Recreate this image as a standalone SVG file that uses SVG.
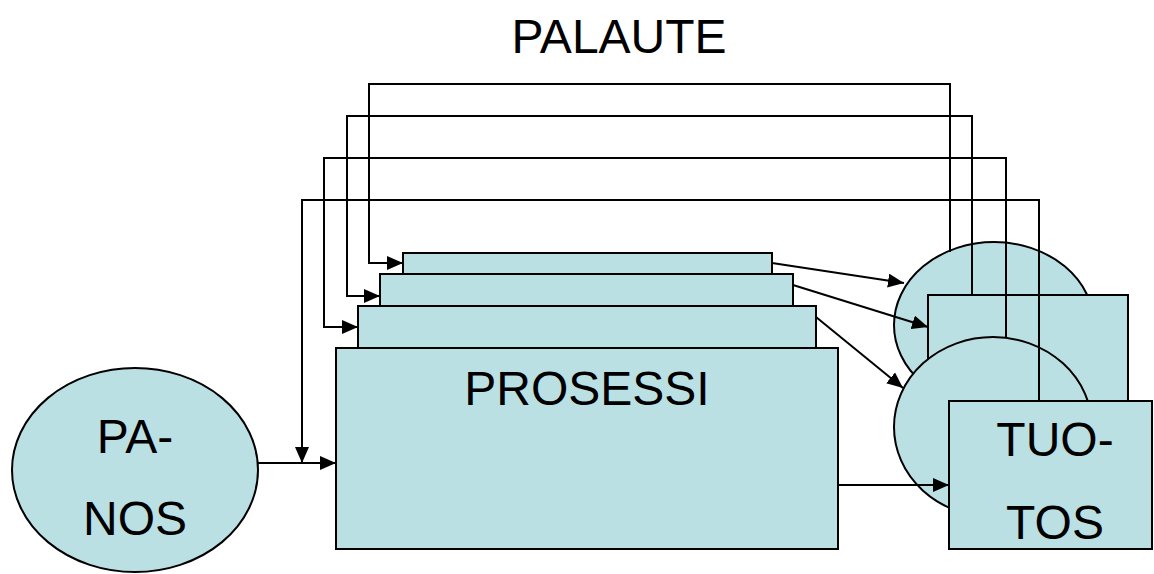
<svg xmlns="http://www.w3.org/2000/svg" width="1154" height="574" viewBox="0 0 1154 574">
<style>
.n{fill:#BBE0E3;stroke:#000;stroke-width:2}
.c{fill:none;stroke:#000;stroke-width:2}
.t{font-family:"Liberation Sans",Arial,sans-serif;font-size:48px;fill:#000;text-anchor:middle}
</style>
<defs>
<marker id="ah" viewBox="0 0 16 14" refX="16" refY="7" markerWidth="16" markerHeight="14" markerUnits="userSpaceOnUse" orient="auto">
<path d="M0,0 L16,7 L0,14 Z" fill="#000"/>
</marker>
</defs>
<rect width="1154" height="574" fill="#fff"/>
<text class="t" x="619" y="53">PALAUTE</text>
<g id="panos">
<ellipse class="n" cx="135" cy="470" rx="123" ry="102"/>
<text class="t" x="135" y="453">PA-</text>
<text class="t" x="135" y="535">NOS</text>
</g>
<g id="stack1"><rect class="n" x="403" y="253" width="369" height="21"/></g>
<g id="stack2"><rect class="n" x="380" y="274" width="413" height="32"/></g>
<g id="stack3"><rect class="n" x="358" y="306" width="458" height="42"/></g>
<g id="prosessi">
<rect class="n" x="336" y="348" width="502" height="201"/>
<text class="t" x="587" y="405">PROSESSI</text>
</g>
<g id="out1"><ellipse class="n" cx="994" cy="325" rx="100" ry="83"/></g>
<g id="out2"><rect class="n" x="928" y="295" width="200" height="150"/></g>
<g id="out3"><ellipse class="n" cx="993" cy="427" rx="99" ry="90"/></g>
<g id="tuotos">
<rect class="n" x="949" y="401" width="203" height="148"/>
<text class="t" x="1055" y="456">TUO-</text>
<text class="t" x="1055" y="539">TOS</text>
</g>
<g id="connectors">
<path class="c" d="M950,252 V84 H369 V263 H403" marker-end="url(#ah)"/>
<path class="c" d="M972,295 V116 H347 V296 H380" marker-end="url(#ah)"/>
<path class="c" d="M1006,337 V158 H324 V327 H358" marker-end="url(#ah)"/>
<path class="c" d="M1039,401 V200 H302 V463" marker-end="url(#ah)"/>
<path class="c" d="M258,463 H336" marker-end="url(#ah)"/>
<path class="c" d="M772,263 L904,283" marker-end="url(#ah)"/>
<path class="c" d="M793,285 L928,327" marker-end="url(#ah)"/>
<path class="c" d="M816,317 L903,388" marker-end="url(#ah)"/>
<path class="c" d="M838,485 H949" marker-end="url(#ah)"/>
</g>
</svg>
